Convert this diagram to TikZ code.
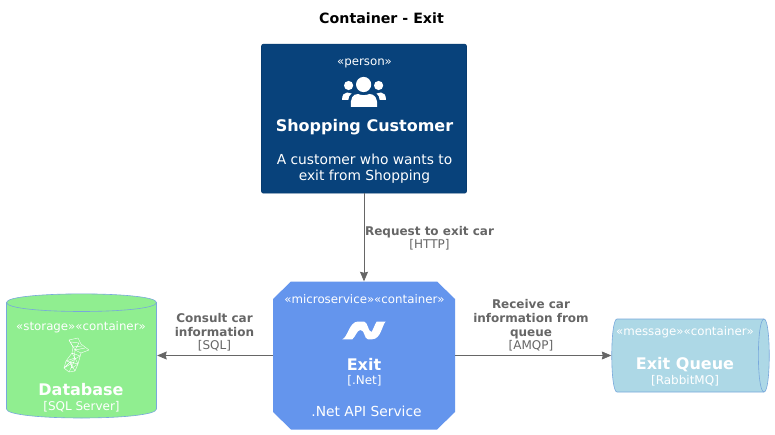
\documentclass[tikz,border=0pt]{standalone}
\usepackage{fontspec}
\setmainfont{DejaVu Sans}
\usetikzlibrary{arrows.meta}
\newcommand{\fsz}[1]{\fontsize{#1}{#1}\selectfont}
\definecolor{persona}{HTML}{08427B}
\definecolor{personb}{HTML}{073B6F}
\definecolor{svc}{HTML}{6495ED}
\definecolor{dbfill}{HTML}{90EE90}
\definecolor{qfill}{HTML}{ADD8E6}
\definecolor{edge}{HTML}{78A8DC}
\definecolor{linec}{HTML}{666666}
\tikzset{
  x=1pt,y=-1pt,
  stereo/.style={text=white,font=\fsz{11.8},anchor=base,inner sep=0pt},
  bigname/.style={text=white,font=\bfseries\fsz{16},anchor=base,inner sep=0pt},
  tech/.style={text=white,font=\fsz{12},anchor=base,inner sep=0pt},
  descr/.style={text=white,font=\fsz{13.8},anchor=base,inner sep=0pt},
  rlabel/.style={text=linec,align=center,anchor=north,inner sep=0pt},
  rel/.style={draw=linec,line width=0.65pt,-{Stealth[length=9.5pt,width=8pt,inset=1pt]}},
  iconline/.style={draw=white,line width=0.4pt},
}
\newcommand{\lbl}[1]{{\bfseries\fsz{12}#1}}
\newcommand{\tch}[1]{{\fsz{12}#1}}
\begin{document}
\begin{tikzpicture}
\useasboundingbox (0,0) rectangle (775,435);
\fill[white] (0,0) rectangle (775,435);

\node[anchor=base,inner sep=0pt,font=\bfseries\fsz{14.2}] (title) at (381.5,24) {Container - Exit};

% person
\node[fill=persona,draw=personb,rounded corners=2pt,line width=0.6pt,minimum width=205pt,minimum height=149pt,inner sep=0pt] (person) at (364,118.7) {};
\node[stereo] (pst) at (364.5,65.5) {«person»};
\fill[white] (363.6,84.5) circle[radius=7.6];
\fill[white] (348.6,85.5) circle[radius=4.6];
\fill[white] (378.6,85.5) circle[radius=4.6];
\fill[white] (351,107) .. controls (350,98) and (353,94) .. (358,94) .. controls (361,95.5) and (366,95.5) .. (369.5,94) .. controls (374.5,94) and (378,98) .. (377,107) -- cycle;
\fill[white] (342,100) .. controls (342,95) and (344,92.5) .. (347,92.5) .. controls (349,92.5) and (350,93) .. (351.5,93.5) .. controls (349.5,95) and (348.5,97) .. (348.3,100) -- cycle;
\fill[white] (386,100) .. controls (386,95) and (384,92.5) .. (381,92.5) .. controls (379,92.5) and (378,93) .. (376.5,93.5) .. controls (378.5,95) and (379.5,97) .. (379.7,100) -- cycle;
\node[bigname] (pname) at (364.5,131.5) {Shopping Customer};
\node[descr] (pd1) at (364.5,164.5) {A customer who wants to};
\node[descr] (pd2) at (364.5,180.5) {exit from Shopping};

% exit service
\node[inner sep=0pt,minimum width=182pt,minimum height=148pt] (exit) at (364,355.5) {};
\fill[svc] (291,281.5) -- (437,281.5) -- (455,299) -- (455,412) -- (437,429.5) -- (291,429.5) -- (273,412) -- (273,299) -- cycle;
\node[stereo] (est) at (364.5,303.5) {«microservice»«container»};
\fill[white] (342.3,339.3) .. controls (348,337) and (349,322) .. (358,321.5) -- (364,321.5) .. controls (368,322) and (368,332) .. (371.5,332) .. controls (373,330) and (374.5,325) .. (376.7,321.5) -- (385.7,321.5) .. controls (382,325) and (381,339.3) .. (372,339.3) -- (368,339.3) .. controls (364,339) and (365,330) .. (360.5,330) .. controls (357,330) and (356,336) .. (352.3,339.3) -- cycle;
\node[bigname] (ename) at (364,370) {Exit};
\node[tech] (etech) at (364.5,384.5) {[.Net]};
\node[descr] (edesc) at (366.5,416.5) {.Net API Service};

% database
\node[inner sep=0pt,minimum width=151pt,minimum height=124pt] (db) at (81.5,355.5) {};
\draw[fill=dbfill,draw=edge,line width=0.6pt] (6.5,302.5) .. controls (6.5,291) and (156.5,291) .. (156.5,302.5) -- (156.5,409) .. controls (156.5,421) and (6.5,421) .. (6.5,409) -- cycle;
\draw[draw=edge,line width=0.6pt] (6.5,302.5) .. controls (6.5,314.5) and (156.5,314.5) .. (156.5,302.5);
\node[stereo] (dst) at (81,330) {«storage»«container»};
\draw[iconline,line join=round] (69,340) -- (78,338) -- (81,344) -- (89,350) -- (81,353) -- (78,364) -- (75,371) -- (69,372) -- (64,368) -- (66,361) -- (72,353) -- (73,347) -- cycle;
\draw[iconline] (71,342) -- (79,343) -- (75,350) -- (81,353) (73,347) -- (82,346) (72,353) -- (80,356) -- (70,362) -- (75,371) (66,361) -- (78,364) (75,350) -- (74,362) -- (69,372) (64,368) -- (74,362) (69,340) -- (75,350) -- (85,348) (72,353) -- (75,358) -- (66,361) (75,358) -- (78,364) (70,362) -- (64,368) (70,362) -- (72,368) -- (78,364);
\node[bigname] (dname) at (81,395.5) {Database};
\node[tech] (dtech) at (81.5,410.5) {[SQL Server]};

% queue
\node[inner sep=0pt,minimum width=157pt,minimum height=73pt] (queue) at (690,355.5) {};
\draw[fill=qfill,draw=edge,line width=0.6pt] (617,319) -- (764,319) .. controls (771,319) and (771,392) .. (764,392) -- (617,392) .. controls (610,392) and (610,319) .. (617,319) -- cycle;
\draw[draw=edge,line width=0.6pt] (764,319) .. controls (756.5,319) and (756.5,392) .. (764,392);
\node[stereo] (qst) at (685,335.5) {«message»«container»};
\node[bigname] (qname) at (685,369.5) {Exit Queue};
\node[tech] (qtech) at (685,384.5) {[RabbitMQ]};

% connectors
\draw[rel] (person.south) -- (exit.north);
\draw[rel] (exit.west) -- (db.east);
\draw[rel] (exit.east) -- (queue.west);

\node[rlabel] (l1) at (429.5,226) {\lbl{Request to exit car}\\[1pt]\tch{[HTTP]}};
\node[rlabel] (l2) at (214.5,313) {\lbl{Consult car}\hspace{4pt}\\[2pt]\lbl{information}\\[1pt]\tch{[SQL]}};
\node[rlabel] (l3) at (531,299) {\lbl{Receive car}\\[2pt]\lbl{information from}\\[2pt]\lbl{queue}\\[1pt]\tch{[AMQP]}};
\end{tikzpicture}
\end{document}
